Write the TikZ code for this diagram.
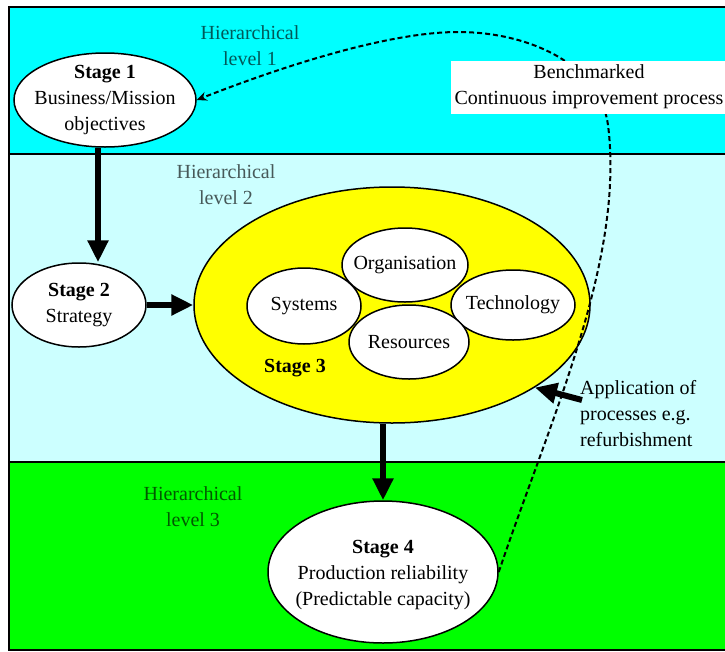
\documentclass[tikz,border=0pt]{standalone}
\usepackage{fontspec}
\setmainfont{Liberation Serif}
\usetikzlibrary{shapes,arrows.meta,positioning,calc}
\definecolor{levelone}{RGB}{0,255,255}
\definecolor{leveltwo}{RGB}{204,255,255}
\definecolor{levelthree}{RGB}{0,255,0}
\definecolor{stageyellow}{RGB}{255,255,0}

\begin{document}
\begin{tikzpicture}[x=1pt,y=-1pt,
	% Node styles
	stage/.style={
		ellipse,
		draw=black,
		fill=white,
		line width=1.5pt,
		inner sep=0pt
	},
	stagetext/.style={
		font=\fontsize{20}{26}\selectfont,
		align=center,
		inner sep=0pt
	},
	leveltext/.style={
		font=\fontsize{20}{26}\selectfont,
		align=center,
		text=#1!35!black
	},
	band/.style={
		draw=black,
		line width=1.5pt
	},
	bigarrow/.style={
		-{Triangle[length=22pt,width=20pt]},
		line width=6pt
	},
	loopline/.style={
		-{Stealth[length=10pt,width=9pt]},
		line width=2pt,
		dash pattern=on 5pt off 3pt
	}
	]
	
	\clip (0,0) rectangle (725,651);
	
	% Hierarchical levels
	\fill[white] (0,0) rectangle (725,651);
	\filldraw[band, fill=levelone] (9,7) rectangle (740,154);
	\filldraw[band, fill=leveltwo] (9,154) rectangle (740,462);
	\filldraw[band, fill=levelthree] (9,462) rectangle (740,650);
	
	\node[leveltext=levelone] at (250,46) {Hierarchical\\level 1};
	\node[leveltext=leveltwo] at (226,185) {Hierarchical\\level 2};
	\node[leveltext=levelthree] at (193,507) {Hierarchical\\level 3};
	
	% Stages
	\node[stage, minimum width=182, minimum height=94] (s1) at (105,100) {};
	\node[stagetext] at (s1) {\textbf{Stage 1}\\Business/Mission\\objectives};
	
	\node[stage, minimum width=134, minimum height=84] (s2) at (79,305) {};
	\node[stagetext] at (s2) {\textbf{Stage 2}\\Strategy};
	
	\node[stage, fill=stageyellow, minimum width=396, minimum height=236] (s3) at (392,305) {};
	\node[stage, minimum width=126, minimum height=74] (org) at (405,265) {};
	\node[stage, minimum width=114, minimum height=76] (sys) at (304,306) {};
	\node[stage, minimum width=124, minimum height=70] (tech) at (513,305) {};
	\node[stage, minimum width=120, minimum height=74] (res) at (409,342) {};
	\node[stagetext] at (org) {Organisation};
	\node[stagetext] at (sys) {Systems};
	\node[stagetext] at (tech) {Technology};
	\node[stagetext] at (res) {Resources};
	\node[stagetext] at (295,368) {\textbf{Stage 3}};
	
	\node[stage, minimum width=230, minimum height=142] (s4) at (383,572) {};
	\node[stagetext] at ([yshift=-3pt]s4.center) {\textbf{Stage 4}\\Production reliability\\(Predictable capacity)};
	
	% Continuous improvement loop
	\coordinate (bend) at (608,125);
	\coordinate (peak) at (458,32);
	\draw[loopline] (s4.east) .. controls (550,420) and (625,260) .. (bend)
		.. controls (600,65) and (530,32) .. (peak)
		.. controls (380,32) and (260,75) .. (s1.east);
	\node[fill=white, font=\fontsize{20}{26}\selectfont, align=center, inner xsep=4pt, minimum height=53] (bench) at (589,87) {Benchmarked\\Continuous improvement process};
	
	% Main flow
	\coordinate (ax) at (98,0);
	\draw[bigarrow] (s1.south -| ax) -- (s2.north -| ax);
	\draw[bigarrow] (s2.east) -- (s3.west);
	\draw[bigarrow] (s3.south -| s4.north) -- (s4.north);
	
	% Application of processes
	\node[stagetext, align=left, anchor=west] (app) at (580,414) {Application of\\processes e.g.\\refurbishment};
	\draw[bigarrow] ([shift={(2pt,14pt)}]app.west) -- (s3.-30);
	
\end{tikzpicture}
\end{document}
